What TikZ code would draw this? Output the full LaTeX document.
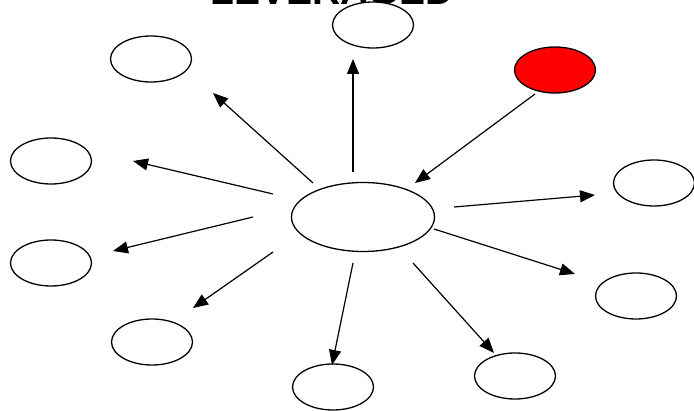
\documentclass[tikz,border=0pt]{standalone}
\usepackage{fontspec}
\setmainfont{Liberation Sans}
\usetikzlibrary{shapes.geometric,arrows.meta}
\begin{document}
\begin{tikzpicture}[x=1pt,y=-1pt,
  oval/.style={draw=black,ellipse,line width=1.3pt,minimum width=81pt,minimum height=46pt,inner sep=0pt,fill=white},
  bigoval/.style={oval,minimum width=143pt,minimum height=69pt},
  redoval/.style={oval,fill=red},
  conn/.style={line width=1.2pt,-{Triangle[length=15pt,width=12pt]}},
  title/.style={font=\fontsize{39}{39}\selectfont\bfseries,anchor=base,inner sep=0pt}]
\useasboundingbox (0,0) rectangle (694,411);
\clip (0,0) rectangle (694,411);
\fill[white] (0,0) rectangle (694,411);
\node[title] (ttl) at (332,5) {LEVERAGED};
% nodes
\node[bigoval] (c) at (363,217) {};
\node[oval] (top) at (373,25) {};
\node[oval] (tl) at (151,59) {};
\node[redoval] (red) at (555,70) {};
\node[oval] (l1) at (51,161) {};
\node[oval] (l2) at (51,263) {};
\node[oval] (r1) at (654,183) {};
\node[oval] (r2) at (636,296) {};
\node[oval] (bl) at (152,342) {};
\node[oval] (bm) at (333,387) {};
\node[oval] (br) at (515,376) {};
% connector end points (arrows float between nodes)
\coordinate (s-top) at (353,172); \coordinate (e-top) at (353,59);
\coordinate (s-tl) at (313,183);  \coordinate (e-tl) at (213,93);
\coordinate (s-red) at (535,94);  \coordinate (e-red) at (415,183);
\coordinate (s-l1) at (273,194);  \coordinate (e-l1) at (133,161);
\coordinate (s-l2) at (253,217);  \coordinate (e-l2) at (113,251);
\coordinate (s-bl) at (273,252);  \coordinate (e-bl) at (193,308);
\coordinate (s-bm) at (353,263);  \coordinate (e-bm) at (332,365);
\coordinate (s-br) at (413,263);  \coordinate (e-br) at (494,353);
\coordinate (s-r2) at (434,229);  \coordinate (e-r2) at (575,274);
\coordinate (s-r1) at (454,207);  \coordinate (e-r1) at (595,195);
% connectors
\draw[conn] (s-top) -- (e-top);
\draw[conn] (s-tl) -- (e-tl);
\draw[conn] (s-red) -- (e-red);
\draw[conn] (s-l1) -- (e-l1);
\draw[conn] (s-l2) -- (e-l2);
\draw[conn] (s-bl) -- (e-bl);
\draw[conn] (s-bm) -- (e-bm);
\draw[conn] (s-br) -- (e-br);
\draw[conn] (s-r2) -- (e-r2);
\draw[conn] (s-r1) -- (e-r1);
\end{tikzpicture}
\end{document}
